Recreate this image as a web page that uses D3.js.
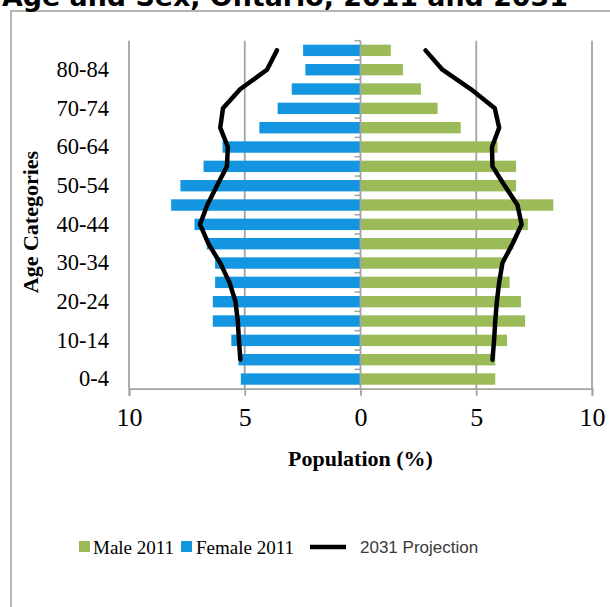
<!DOCTYPE html>
<html>
<head>
<meta charset="utf-8">
<script src="https://cdn.jsdelivr.net/npm/d3@7"></script>
<style>
  html, body { margin: 0; padding: 0; background: #fff; }
  svg { display: block; }
</style>
</head>
<body>
<svg id="chart" width="610" height="607"></svg>
<script>
// Age groups, youngest first
const ageGroups = ["0-4","5-9","10-14","15-19","20-24","25-29","30-34","35-39","40-44",
                   "45-49","50-54","55-59","60-64","65-69","70-74","75-79","80-84","85+"];
// Share of population (%) by age group, 2011
const male2011   = [5.82, 5.82, 6.33, 7.11, 6.93, 6.44, 6.20, 6.60, 7.23,
                    8.33, 6.72, 6.72, 5.92, 4.33, 3.33, 2.61, 1.83, 1.31];
const female2011 = [5.17, 5.27, 5.58, 6.38, 6.38, 6.28, 6.28, 6.64, 7.17,
                    8.18, 7.78, 6.78, 5.96, 4.37, 3.58, 2.97, 2.38, 2.48];
// 2031 projection (%), no value for 0-4
const projMale2031   = [null, 5.70, 5.77, 5.82, 5.89, 5.99, 6.13, 6.57, 6.96,
                        6.78, 6.23, 5.70, 5.68, 5.99, 5.80, 4.76, 3.54, 2.81];
const projFemale2031 = [null, 5.19, 5.25, 5.30, 5.40, 5.66, 6.06, 6.57, 6.93,
                        6.62, 6.20, 5.77, 5.73, 6.06, 5.94, 5.19, 4.04, 3.61];
// Axis ticks
const xTicks = [-10, -5, 0, 5, 10];
const yTickLabels = ["0-4","10-14","20-24","30-34","40-44","50-54","60-64","70-74","80-84"];

const title = "Age and Sex, Ontario, 2011 and 2031";
const xTitle = "Population (%)";
const yTitle = "Age Categories";
const legendItems = [
  { label: "Male 2011", kind: "rect", color: "#9BBB59" },
  { label: "Female 2011", kind: "rect", color: "#1396DF" },
  { label: "2031 Projection", kind: "line", color: "#000" }
];

const svg = d3.select("#chart");
const serif = "'Liberation Serif', 'Times New Roman', serif";
const gridColor = "#a3a3a3";

const plot = { left: 129, right: 592, top: 40.7, bottom: 388.7 };

const x = d3.scaleLinear().domain([-10, 10]).range([plot.left, plot.right]);
const y = d3.scaleBand()
  .domain(ageGroups.slice().reverse())
  .range([plot.top, plot.bottom])
  .paddingInner(0.41)
  .paddingOuter(0.205);

// Outer chart frame
svg.append("rect")
  .attr("x", 11).attr("y", 11)
  .attr("width", 640).attr("height", 640)
  .attr("fill", "none")
  .attr("stroke", "#b5b5b5")
  .attr("stroke-width", 2);

// Title (partly above the frame)
const titleText = svg.append("text")
  .attr("x", 2).attr("y", 6)
  .attr("font-family", "'DejaVu Sans', Verdana, sans-serif")
  .attr("font-weight", "bold")
  .attr("font-size", 24)
  .attr("fill", "#000")
  .text(title);
const tLen = titleText.node().getComputedTextLength();
titleText.attr("font-size", 24 * 566 / tLen);

// Vertical gridlines
svg.append("g")
  .selectAll("line")
  .data(xTicks.filter(d => d !== 0))
  .join("line")
  .attr("x1", d => x(d)).attr("x2", d => x(d))
  .attr("y1", plot.top).attr("y2", plot.bottom)
  .attr("stroke", gridColor)
  .attr("stroke-width", 1.8);

// Bars
const rows = ageGroups.map((g, i) => ({ g, male: male2011[i], female: female2011[i] }));
svg.append("g")
  .selectAll("rect")
  .data(rows)
  .join("rect")
  .attr("x", d => x(-d.female))
  .attr("y", d => y(d.g))
  .attr("width", d => x(0) - x(-d.female))
  .attr("height", y.bandwidth())
  .attr("fill", "#1396DF");
svg.append("g")
  .selectAll("rect")
  .data(rows)
  .join("rect")
  .attr("x", x(0))
  .attr("y", d => y(d.g))
  .attr("width", d => x(d.male) - x(0))
  .attr("height", y.bandwidth())
  .attr("fill", "#9BBB59");

// Horizontal value axis
const xAxis = d3.axisBottom(x)
  .tickValues(xTicks)
  .tickSize(7)
  .tickPadding(12)
  .tickFormat(d => Math.abs(d));
const gx = svg.append("g")
  .attr("transform", `translate(0,${plot.bottom})`)
  .call(xAxis);
gx.select(".domain").attr("stroke", gridColor).attr("stroke-width", 1.8);
gx.selectAll(".tick line").attr("stroke", gridColor).attr("stroke-width", 1.8);
gx.selectAll(".tick text")
  .attr("font-family", serif)
  .attr("font-size", 26)
  .attr("fill", "#000");

// Category axis along zero, with ticks between bands
const boundaries = d3.range(ageGroups.length + 1).map(i => plot.top + i * y.step());
const gc = svg.append("g");
gc.append("line")
  .attr("x1", x(0)).attr("x2", x(0))
  .attr("y1", plot.top).attr("y2", plot.bottom)
  .attr("stroke", gridColor).attr("stroke-width", 1.8);
gc.selectAll("line.b")
  .data(boundaries)
  .join("line")
  .attr("class", "b")
  .attr("x1", x(0) - 6).attr("x2", x(0))
  .attr("y1", d => d).attr("y2", d => d)
  .attr("stroke", gridColor).attr("stroke-width", 1.5);

// Category labels at the low side of the plot
const yAxis = d3.axisLeft(y)
  .tickValues(yTickLabels)
  .tickSize(0)
  .tickPadding(20);
const gy = svg.append("g")
  .attr("transform", `translate(${plot.left},0)`)
  .call(yAxis);
gy.select(".domain").remove();
gy.selectAll(".tick text")
  .attr("font-family", serif)
  .attr("font-size", 22.5)
  .attr("fill", "#000");

// 2031 projection lines
const lineF = d3.line()
  .defined(d => d.v != null)
  .x(d => x(-d.v))
  .y(d => y(d.g) + y.bandwidth() / 2);
const lineM = d3.line()
  .defined(d => d.v != null)
  .x(d => x(d.v))
  .y(d => y(d.g) + y.bandwidth() / 2);
const projF = ageGroups.map((g, i) => ({ g, v: projFemale2031[i] }));
const projM = ageGroups.map((g, i) => ({ g, v: projMale2031[i] }));
[[lineF, projF], [lineM, projM]].forEach(([gen, data]) => {
  svg.append("path")
    .datum(data)
    .attr("d", gen)
    .attr("fill", "none")
    .attr("stroke", "#000")
    .attr("stroke-width", 4.5)
    .attr("stroke-linejoin", "round")
    .attr("stroke-linecap", "round");
});

// Axis titles
svg.append("text")
  .attr("x", x(0)).attr("y", 466)
  .attr("text-anchor", "middle")
  .attr("font-family", serif)
  .attr("font-weight", "bold")
  .attr("font-size", 22)
  .attr("fill", "#000")
  .text(xTitle);
svg.append("text")
  .attr("transform", "translate(38,222) rotate(-90)")
  .attr("text-anchor", "middle")
  .attr("font-family", serif)
  .attr("font-weight", "bold")
  .attr("font-size", 22)
  .attr("fill", "#000")
  .text(yTitle);

// Legend
const lg = svg.append("g");
const legendY = 547;
lg.append("rect").attr("x", 79).attr("y", legendY - 6).attr("width", 11).attr("height", 11)
  .attr("fill", legendItems[0].color);
lg.append("text").attr("x", 93).attr("y", legendY + 6.5)
  .attr("font-family", serif).attr("font-size", 19).attr("fill", "#000")
  .text(legendItems[0].label);
lg.append("rect").attr("x", 181).attr("y", legendY - 6).attr("width", 11).attr("height", 11)
  .attr("fill", legendItems[1].color);
lg.append("text").attr("x", 196).attr("y", legendY + 6.5)
  .attr("font-family", serif).attr("font-size", 19).attr("fill", "#000")
  .text(legendItems[1].label);
lg.append("line").attr("x1", 310).attr("x2", 346).attr("y1", legendY).attr("y2", legendY)
  .attr("stroke", legendItems[2].color).attr("stroke-width", 4.5);
lg.append("text").attr("x", 360).attr("y", legendY + 6)
  .attr("font-family", "'Liberation Sans', Arial, sans-serif").attr("font-size", 17)
  .attr("fill", "#3a3a3a")
  .text(legendItems[2].label);
</script>
</body>
</html>
